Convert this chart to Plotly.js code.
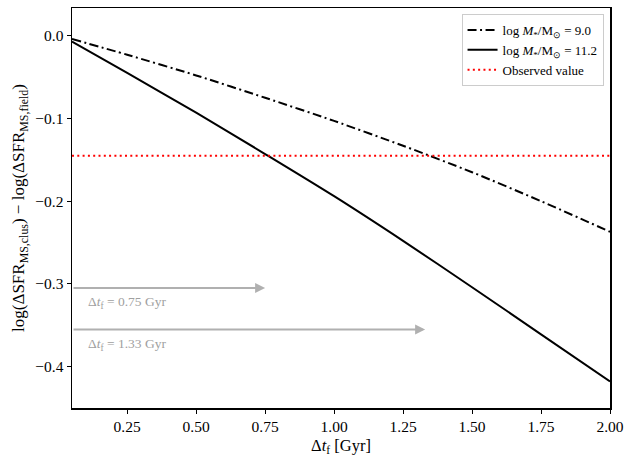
<!DOCTYPE html>
<html>
<head>
<meta charset="utf-8">
<script src="https://cdn.plot.ly/plotly-3.0.1.min.js"></script>
<style>html,body{margin:0;padding:0;background:#fff;}#chart{width:626px;height:456px;}</style>
</head>
<body>
<div id="chart"></div>
<script>
// Data
const dtf = [0.05, 0.25, 0.5, 0.75, 1.0, 1.25, 1.5, 1.75, 2.0];
const lowMass = [-0.004, -0.023, -0.048, -0.075, -0.103, -0.133, -0.165, -0.200, -0.237];   // log M*/Msun = 9.0
const highMass = [-0.007, -0.045, -0.093, -0.143, -0.194, -0.248, -0.304, -0.361, -0.418];  // log M*/Msun = 11.2
const observedValue = -0.145;
const observedX = [0.05, 2.0];
const arrowStart = [0.05, 0.05];
const arrowEnd = [0.75, 1.33];
const arrowY = [-0.305, -0.355];
const arrowLabels = ["Δ<i>t</i><sub>f</sub> = 0.75 Gyr", "Δ<i>t</i><sub>f</sub> = 1.33 Gyr"];
const xTicks = [0.25, 0.5, 0.75, 1.0, 1.25, 1.5, 1.75, 2.0];
const yTicks = [0.0, -0.1, -0.2, -0.3, -0.4];

const font = "Liberation Serif";

const traces = [
  {x: dtf, y: lowMass, mode: 'lines', name: 'log <i>M</i><sub>*</sub>/M<sub>⊙</sub> = 9.0',
   line: {color: 'black', width: 2, dash: '9px,3.5px,2px,3.5px', shape: 'spline', smoothing: 0.8}},
  {x: dtf, y: highMass, mode: 'lines', name: 'log <i>M</i><sub>*</sub>/M<sub>⊙</sub> = 11.2',
   line: {color: 'black', width: 2, shape: 'spline', smoothing: 0.8}},
  {x: observedX, y: observedX.map(() => observedValue), mode: 'lines', name: 'Observed value',
   line: {color: 'red', width: 2, dash: '2px,3.3px'}}
];

const annotations = [];
for (let i = 0; i < arrowEnd.length; i++) {
  annotations.push({x: arrowEnd[i], y: arrowY[i], ax: arrowStart[i], ay: arrowY[i],
    xref: 'x', yref: 'y', axref: 'x', ayref: 'y', text: '', showarrow: true,
    arrowhead: 2, arrowsize: 1, arrowwidth: 2, arrowcolor: '#b0b0b0', standoff: 0, startstandoff: 0});
  annotations.push({x: arrowStart[i] + 0.05, y: arrowY[i] - 0.018, xref: 'x', yref: 'y',
    text: arrowLabels[i], showarrow: false, xanchor: 'left', yanchor: 'middle',
    font: {family: font, size: 13.5, color: '#a0a0a0'}});
}

const layout = {
  width: 626, height: 456,
  margin: {l: 72, r: 16, t: 8, b: 48},
  paper_bgcolor: '#fff', plot_bgcolor: '#fff',
  font: {family: font, size: 15, color: 'black'},
  showlegend: true,
  legend: {x: 0.988, y: 0.985, xanchor: 'right', yanchor: 'top', bgcolor: 'rgba(255,255,255,0.8)',
    bordercolor: '#cccccc', borderwidth: 1, font: {family: font, size: 13}, tracegroupgap: 0, itemwidth: 30},
  xaxis: {range: [0.05, 2.0], tickvals: xTicks, tickformat: '.2f', ticks: 'outside', ticklen: 4,
    tickwidth: 1, tickcolor: 'black', showgrid: false, zeroline: false,
    showline: true, linecolor: 'black', linewidth: 1.5, mirror: true,
    tickfont: {family: font, size: 15.5},
    title: {text: 'Δ<i>t</i><sub>f</sub> [Gyr]', font: {family: font, size: 16.5}, standoff: 8}},
  yaxis: {range: [-0.45, 0.0335], tickvals: yTicks, tickformat: '.1f', ticks: 'outside', ticklen: 4,
    tickwidth: 1, tickcolor: 'black', showgrid: false, zeroline: false,
    showline: true, linecolor: 'black', linewidth: 1.5, mirror: true,
    tickfont: {family: font, size: 15.5},
    title: {text: 'log(ΔSFR<sub>MS,clus</sub>) − log(ΔSFR<sub>MS,field</sub>)', font: {family: font, size: 17}, standoff: 6}},
  annotations: annotations
};

Plotly.newPlot('chart', traces, layout, {displayModeBar: false, staticPlot: true});
</script>
</body>
</html>
